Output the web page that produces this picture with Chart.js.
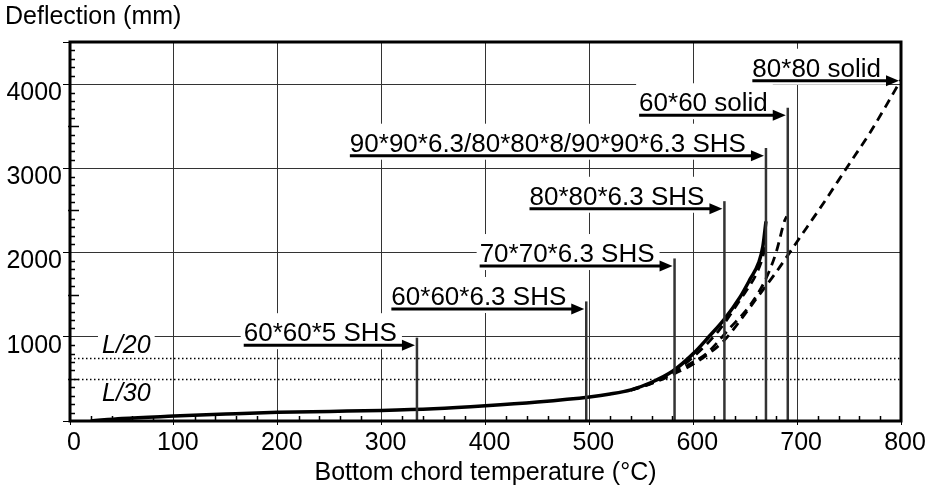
<!DOCTYPE html>
<html>
<head>
<meta charset="utf-8">
<script src="https://cdn.jsdelivr.net/npm/chart.js@4.4.0/dist/chart.umd.min.js"></script>
<style>
  html, body { margin: 0; padding: 0; background: #fff; }
  #deflection-chart { display: block; }
</style>
</head>
<body>
<canvas id="deflection-chart" width="930" height="489"></canvas>
<script>
// SHS sections (solid line) - deflection vs bottom chord temperature
var shsTemp = [20, 50, 100, 150, 200, 250, 300, 350, 400, 450, 500, 520, 540, 560, 580, 600, 615, 630, 645, 655, 663, 667, 670];
var shsDefl = [0, 30, 58, 82, 103, 114, 125, 145, 180, 225, 285, 320, 370, 460, 590, 800, 1000, 1210, 1470, 1690, 1880, 2070, 2370];

// 80*80*8 SHS (dashed, close to the solid one)
var shs808Temp = [540, 560, 580, 600, 625, 645, 661, 667, 670];
var shs808Defl = [368, 455, 575, 760, 1080, 1437, 1754, 1950, 2120];

// 60*60 solid bar
var solid60Temp = [540, 560, 580, 600, 613, 635, 655, 670, 680, 688, 690];
var solid60Defl = [365, 450, 565, 700, 804, 1100, 1380, 1690, 2010, 2380, 2430];

// 80*80 solid bar
var solid80Temp = [540, 560, 580, 600, 615, 630, 645, 660, 680, 695, 710, 725, 740, 755, 770, 785, 800];
var solid80Defl = [365, 445, 550, 675, 800, 960, 1190, 1440, 1770, 2040, 2310, 2580, 2860, 3140, 3420, 3730, 4050];

// axis ticks
var tempTicks = [0, 100, 200, 300, 400, 500, 600, 700, 800];
var deflTicks = [0, 1000, 2000, 3000, 4000, 4500];

// failure temperature of each section and the height of its label
var sectionNames = ['60*60*5 SHS', '60*60*6.3 SHS', '70*70*6.3 SHS', '80*80*6.3 SHS',
                    '90*90*6.3/80*80*8/90*90*6.3 SHS', '60*60 solid', '80*80 solid'];
var failTemp = [334, 497, 582, 630, 670, 691, 800];
var labelLevel = [900, 1330, 1840, 2520, 3150, 3630, 4040];

// deflection limits (span / 20, span / 30)
var limitNames = ['L/20', 'L/30'];
var limitValues = [750, 500];

var FONT = '"Liberation Sans", Arial, Helvetica, sans-serif';
var LABEL_FONT = '26px ' + FONT;
var LIMIT_FONT = 'italic 25px ' + FONT;

function toPoints(xs, ys) {
    return xs.map(function (t, i) { return { x: t, y: ys[i] }; });
}

function limitLabelY(chart, i) {
    return chart.scales.y.getPixelForValue(limitValues[i]) + (i === 0 ? -12 : 15);
}

var failureMarks = {
    id: 'failureMarks',
    beforeDatasetsDraw(chart) {
        var ctx = chart.ctx, xs = chart.scales.x, ys = chart.scales.y, area = chart.chartArea;
        ctx.save();
        ctx.fillStyle = '#fff';
        // white boxes behind the labels hide the grid
        ctx.font = LABEL_FONT;
        sectionNames.forEach(function (name, i) {
            var tipX = Math.min(xs.getPixelForValue(failTemp[i]) - 2, area.right - 1);
            var yy = ys.getPixelForValue(labelLevel[i]);
            var w = ctx.measureText(name).width;
            var right = tipX - 18;
            ctx.fillRect(right - w - 3, yy - 32, w + 8, 36);
        });
        ctx.font = LIMIT_FONT;
        limitNames.forEach(function (name, i) {
            var yy = limitLabelY(chart, i);
            var w = ctx.measureText(name).width;
            ctx.fillRect(area.left + 28, yy - 12, w + 8, 24);
        });
        // dotted limit lines
        ctx.strokeStyle = '#000';
        ctx.lineWidth = 1.5;
        ctx.setLineDash([1.5, 2.5]);
        limitValues.forEach(function (v) {
            var yy = Math.round(ys.getPixelForValue(v)) + 0.5;
            ctx.beginPath();
            ctx.moveTo(area.left, yy);
            ctx.lineTo(area.right, yy);
            ctx.stroke();
        });
        ctx.restore();
    },
    afterDatasetsDraw(chart) {
        var ctx = chart.ctx, xs = chart.scales.x, ys = chart.scales.y, area = chart.chartArea;
        ctx.save();

        // limit labels
        ctx.fillStyle = '#000';
        ctx.font = LIMIT_FONT;
        ctx.textBaseline = 'middle';
        limitNames.forEach(function (name, i) {
            ctx.fillText(name, area.left + 32, limitLabelY(chart, i));
        });

        // failure marks with arrows and underlined labels
        ctx.font = LABEL_FONT;
        ctx.textBaseline = 'alphabetic';
        sectionNames.forEach(function (name, i) {
            var lineX = xs.getPixelForValue(failTemp[i]);
            var tipX = Math.min(lineX - 2, area.right - 1);
            var yy = ys.getPixelForValue(labelLevel[i]);
            var w = ctx.measureText(name).width;
            var right = tipX - 18;

            if (failTemp[i] < xs.max) {
                ctx.strokeStyle = '#333';
                ctx.lineWidth = 2.5;
                ctx.beginPath();
                ctx.moveTo(lineX, area.bottom);
                ctx.lineTo(lineX, ys.getPixelForValue(labelLevel[i] + 90));
                ctx.stroke();
            }

            ctx.fillStyle = '#000';
            ctx.fillText(name, right - w, yy - 4);

            ctx.strokeStyle = '#000';
            ctx.lineWidth = 3;
            ctx.beginPath();
            ctx.moveTo(right - w, yy);
            ctx.lineTo(tipX - 10, yy);
            ctx.stroke();

            ctx.beginPath();
            ctx.moveTo(tipX, yy);
            ctx.lineTo(tipX - 13, yy - 5.5);
            ctx.lineTo(tipX - 13, yy + 5.5);
            ctx.closePath();
            ctx.fill();
        });

        // minor ticks pointing into the plot
        ctx.strokeStyle = '#000';
        ctx.lineWidth = 1.5;
        ctx.beginPath();
        for (var t = 20; t < xs.max; t += 20) {
            if (t % 100 === 0) continue;
            var px = Math.round(xs.getPixelForValue(t)) + 0.5;
            ctx.moveTo(px, area.bottom);
            ctx.lineTo(px, area.bottom - 5);
        }
        for (var v = 100; v < ys.max; v += 100) {
            if (v % 1000 === 0) continue;
            var py = Math.round(ys.getPixelForValue(v)) + 0.5;
            ctx.moveTo(area.left - (v % 500 === 0 ? 2 : 0), py);
            ctx.lineTo(area.left + (v % 500 === 0 ? 9 : 5), py);
        }
        ctx.stroke();

        // heavy frame
        ctx.lineWidth = 3;
        ctx.strokeRect(area.left, area.top, area.right - area.left, area.bottom - area.top);
        ctx.restore();
    },
    afterDraw(chart) {
        var ctx = chart.ctx;
        ctx.save();
        ctx.fillStyle = '#000';
        ctx.font = '25px ' + FONT;
        ctx.textBaseline = 'alphabetic';
        ctx.fillText('Deflection (mm)', 5, 24);
        ctx.restore();
    }
};

var solidLine = { borderColor: '#000', borderWidth: 3.5, pointRadius: 0, cubicInterpolationMode: 'monotone' };
var dashLine = { borderColor: '#000', borderWidth: 2.8, borderDash: [9, 6], pointRadius: 0, cubicInterpolationMode: 'monotone' };

var ctx = document.getElementById('deflection-chart').getContext('2d');
var deflectionChart = new Chart(ctx, {
    type: 'line',
    data: {
        datasets: [
            Object.assign({ label: '80*80 solid', data: toPoints(solid80Temp, solid80Defl) }, dashLine),
            Object.assign({ label: '60*60 solid', data: toPoints(solid60Temp, solid60Defl) }, dashLine),
            Object.assign({ label: '80*80*8 SHS', data: toPoints(shs808Temp, shs808Defl) }, dashLine),
            Object.assign({ label: 'SHS', data: toPoints(shsTemp, shsDefl) }, solidLine)
        ]
    },
    options: {
        responsive: false,
        animation: false,
        devicePixelRatio: 1,
        layout: { padding: { top: 42, right: 29, left: 0, bottom: 0 } },
        plugins: {
            legend: { display: false },
            tooltip: { enabled: false }
        },
        scales: {
            x: {
                type: 'linear',
                min: 0,
                max: 800,
                afterBuildTicks: function (scale) {
                    scale.ticks = tempTicks.map(function (v) { return { value: v }; });
                },
                afterFit: function (scale) { scale.height = 68; },
                border: { display: false },
                grid: { color: '#333', lineWidth: 1, drawTicks: true, tickLength: 4, tickColor: '#000' },
                ticks: {
                    color: '#000',
                    padding: 3,
                    labelOffset: 4,
                    maxRotation: 0,
                    autoSkip: false,
                    font: { family: FONT, size: 25 }
                },
                title: {
                    display: true,
                    text: 'Bottom chord temperature (°C)',
                    color: '#000',
                    padding: { top: 0, bottom: 1 },
                    font: { family: FONT, size: 25 }
                }
            },
            y: {
                type: 'linear',
                min: 0,
                max: 4500,
                afterBuildTicks: function (scale) {
                    scale.ticks = deflTicks.map(function (v) { return { value: v }; });
                },
                afterFit: function (scale) { scale.width = 70; },
                border: { display: false },
                grid: { color: '#333', lineWidth: 1, drawTicks: true, tickLength: 7, tickColor: '#000' },
                ticks: {
                    color: '#000',
                    padding: 1,
                    labelOffset: 9,
                    autoSkip: false,
                    font: { family: FONT, size: 25 },
                    callback: function (value) {
                        return (value === 0 || value % 1000 !== 0) ? '' : value;
                    }
                }
            }
        }
    },
    plugins: [failureMarks]
});
</script>
</body>
</html>
